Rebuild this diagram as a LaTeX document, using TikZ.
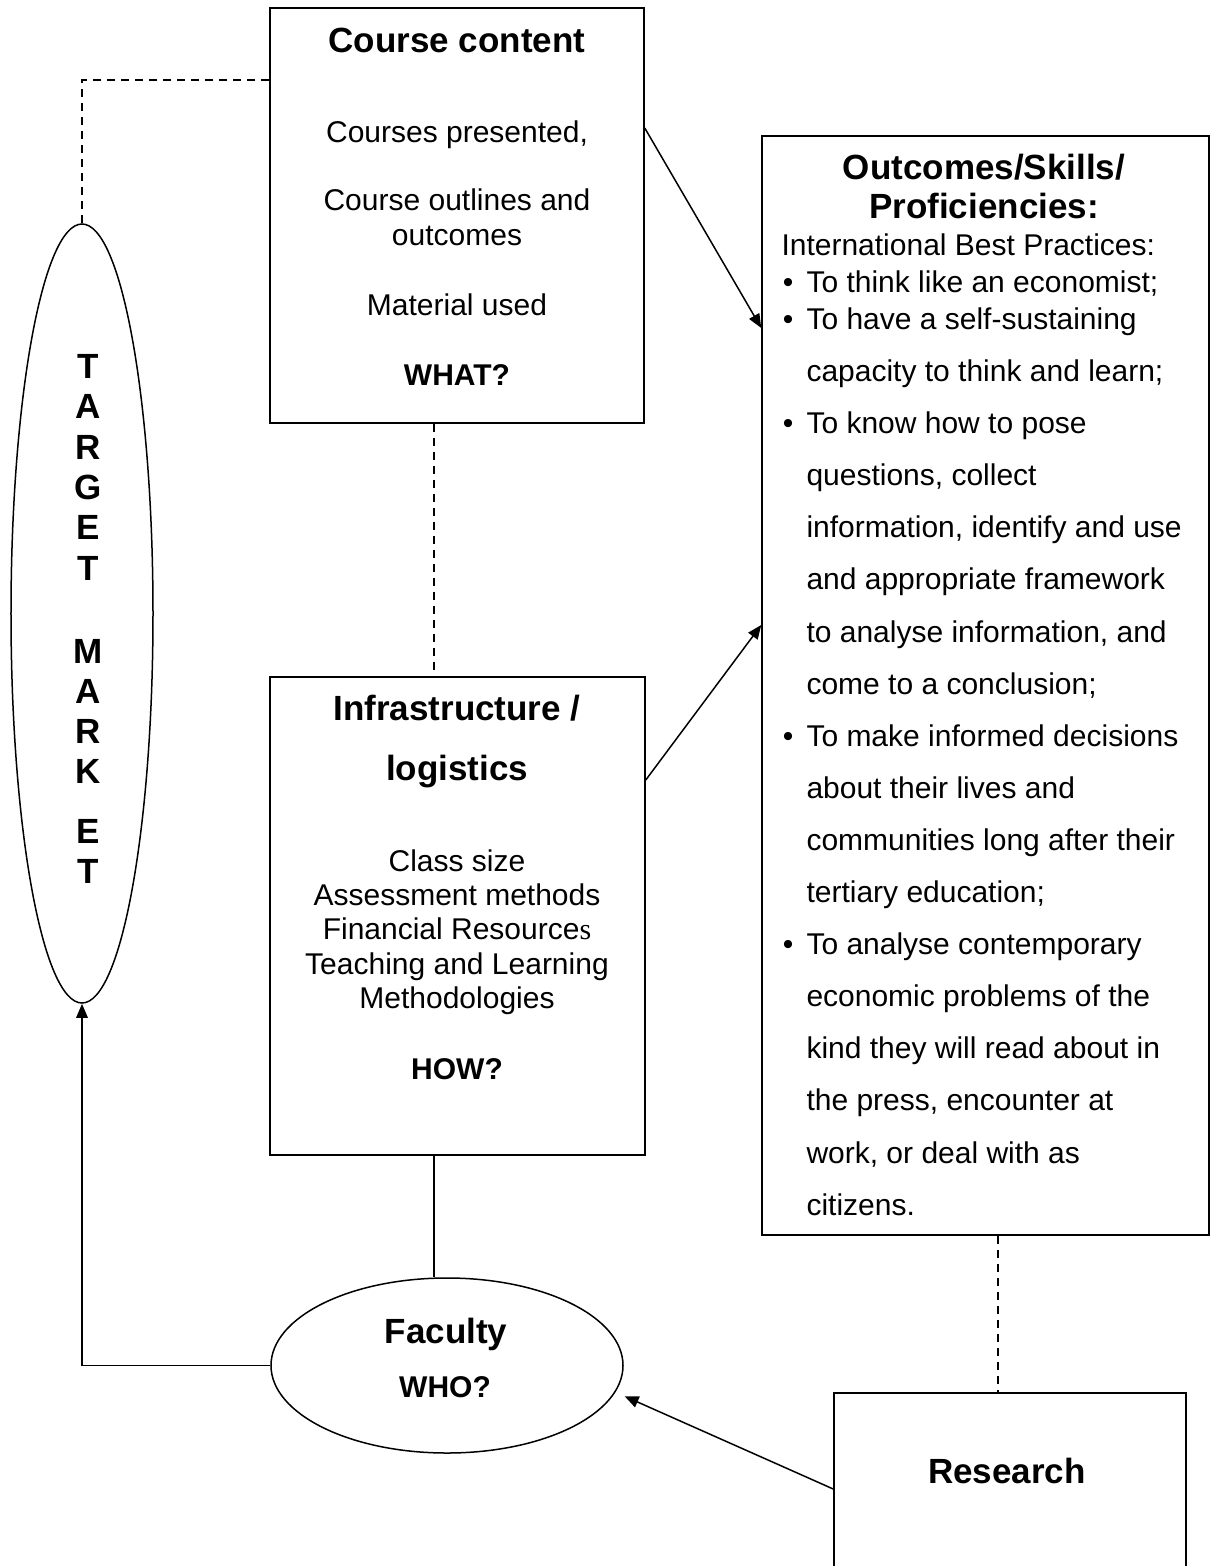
\documentclass[tikz,border=0pt]{standalone}
\usepackage{fontspec}
\setmainfont{Liberation Sans}
\newfontfamily\serifs{Liberation Serif}
\usetikzlibrary{shapes.geometric,arrows.meta}
\tikzset{
  box/.style={draw, rectangle, line width=0.6pt, inner sep=0pt},
  oval/.style={draw, ellipse, line width=0.6pt, inner sep=0pt},
  conn/.style={line width=0.6pt},
  dashline/.style={line width=0.6pt, dash pattern=on 3.4pt off 2.2pt},
  arr/.style={-{Triangle[length=5.6pt,width=4.6pt]}},
  txt/.style={anchor=base, inner sep=0pt, font=\fontsize{12}{14}\selectfont},
  txtl/.style={anchor=base west, inner sep=0pt, font=\fontsize{12}{14}\selectfont},
  btxt/.style={anchor=base, inner sep=0pt, font=\fontsize{12}{14}\selectfont\bfseries},
  ttl/.style={anchor=base, inner sep=0pt, font=\fontsize{14}{16}\selectfont\bfseries},
}
\begin{document}
\begin{tikzpicture}[x=0.4pt,y=-0.4pt]
\useasboundingbox (0,0) rectangle (1210,1566);
% shapes
\node[box, minimum width=149.6pt, minimum height=166pt] (course) at (457,215.5) {};
\node[box, minimum width=150pt, minimum height=191.2pt] (infra) at (457.5,916) {};
\node[box, minimum width=178.8pt, minimum height=439.6pt] (outcomes) at (985.5,685.5) {};
\node[box, minimum width=140.8pt, minimum height=82.8pt] (research) at (1010,1496.5) {};
\node[oval, minimum width=56.8pt, minimum height=311.6pt] (target) at (82,613.5) {};
\node[oval, minimum width=140.8pt, minimum height=70pt] (faculty) at (447,1365.5) {};
% course content texts
\node[ttl] (cc1) at (457,52) {Course content};
\node[txt] (cc2) at (457,142) {Courses presented,};
\node[txt] (cc3) at (457,210) {Course outlines and};
\node[txt] (cc4) at (457,245) {outcomes};
\node[txt] (cc5) at (457,315) {Material used};
\node[btxt] (cc6) at (457,385) {WHAT?};
% infrastructure texts
\node[ttl] (in1) at (457,720) {Infrastructure /};
\node[ttl] (in2) at (457,780) {logistics};
\node[txt] (in3) at (457,871) {Class size};
\node[txt] (in4) at (457,905) {Assessment methods};
\node[txt] (in5) at (457,939) {Financial Resource{\serifs s}};
\node[txt] (in6) at (457,974) {Teaching and Learning};
\node[txt] (in7) at (457,1008) {Methodologies};
\node[btxt] (in8) at (457,1079) {HOW?};
% outcomes texts
\node[ttl] (oc1) at (984,179) {Outcomes/Skills/};
\node[ttl] (oc2) at (984,218) {Proficiencies:};
\node[txtl] (oc3) at (781,255) {International Best Practices:};
\foreach \yy [count=\i] in {292,329,433,746,954}
  \node[txt] (bul\i) at (788,\yy) {•};
\node[txtl] (ol1) at (806,292) {To think like an economist;};
\node[txtl] (ol2) at (806,329) {To have a self-sustaining};
\foreach \t/\yy [count=\i] in {
  {capacity to think and learn;}/381,
  {To know how to pose}/433,
  {questions, collect}/485,
  {information, identify and use}/537,
  {and appropriate framework}/589,
  {to analyse information, and}/642,
  {come to a conclusion;}/694,
  {To make informed decisions}/746,
  {about their lives and}/798,
  {communities long after their}/850,
  {tertiary education;}/902,
  {To analyse contemporary}/954,
  {economic problems of the}/1006,
  {kind they will read about in}/1058,
  {the press, encounter at}/1110,
  {work, or deal with as}/1163,
  {citizens.}/1215}
  \node[txtl] (ow\i) at (806,\yy) {\t};
% target market letters
\foreach \l/\yy [count=\i] in {T/378,A/418,R/459,G/499,E/539,T/580,M/663,A/703,R/743,K/783,E/843,T/883}
  \node[ttl] (tm\i) at (88,\yy) {\l};
% faculty and research texts
\node[ttl] (fa1) at (446,1343) {Faculty};
\node[btxt] (fa2) at (445,1397) {WHO?};
\node[ttl] (re1) at (1007,1483) {Research};
% connectors
\coordinate (tmc) at (82,80);
\draw[dashline] (course.west |- tmc) -- (tmc) -- (target.north);
\coordinate (vx) at (434,0);
\draw[dashline] (course.south -| vx) -- (infra.north -| vx);
\draw[conn] (infra.south -| vx) -- (faculty.north -| vx);
\coordinate (a1s) at (0,128);
\coordinate (a1e) at (0,328);
\draw[conn,arr] (course.east |- a1s) -- (outcomes.west |- a1e);
\coordinate (a2s) at (0,780);
\coordinate (a2e) at (0,625);
\draw[conn,arr] (infra.east |- a2s) -- (outcomes.west |- a2e);
\draw[conn,arr] (faculty.west) -| (target.south);
\coordinate (dx) at (998,0);
\draw[dashline] (outcomes.south -| dx) -- (research.north -| dx);
\coordinate (a3s) at (0,1489);
\draw[conn,arr,shorten >=4pt] (research.west |- a3s) -- (faculty.-9);
\end{tikzpicture}
\end{document}
